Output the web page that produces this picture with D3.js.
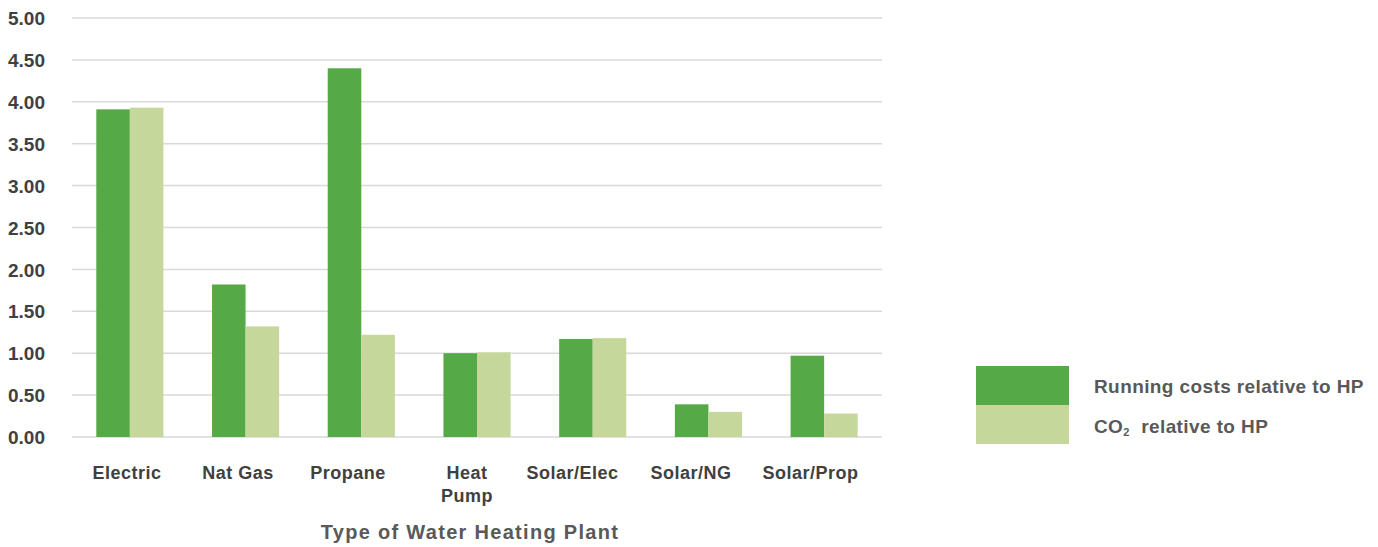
<!DOCTYPE html>
<html><head><meta charset="utf-8">
<script src="https://cdn.jsdelivr.net/npm/d3@7"></script>
<style>body{margin:0;background:#fff}svg{display:block}text{font-family:"Liberation Sans",Arial,sans-serif;font-weight:bold}</style>
</head><body>
<svg id="c" width="1378" height="547"></svg>
<script>
const categories = ["Electric","Nat Gas","Propane","Heat Pump","Solar/Elec","Solar/NG","Solar/Prop"];
const runningCosts = [3.91,1.82,4.40,1.00,1.17,0.39,0.97];
const co2 = [3.93,1.32,1.22,1.01,1.18,0.30,0.28];
const yTicks = [0,0.5,1,1.5,2,2.5,3,3.5,4,4.5,5];
const seriesNames = ["Running costs relative to HP","CO2 relative to HP"];
const colors = ["#55aa47","#c5d79a"];

(function(){
const svg = d3.select("#c");
const pL = 72, pR = 882, pT = 18, pB = 437;
const x = d3.scaleBand().domain(categories).range([pL,pR]).paddingInner(0.42).paddingOuter(0.21);
// label anchor positions (layout of the original category labels)
const xLab = d3.scaleOrdinal().domain(categories).range([127,238,348,467,572.5,691,810.5]);
const y = d3.scaleLinear().domain([0,5]).range([pB,pT]);
const xs = d3.scaleBand().domain([0,1]).range([0,x.bandwidth()]);

svg.append("g").selectAll("line").data(yTicks).join("line")
  .attr("x1",pL).attr("x2",pR)
  .attr("y1",d=>y(d)).attr("y2",d=>y(d))
  .attr("stroke","#d9d9d9").attr("stroke-width",1.5);

const yAxis = d3.axisLeft(y).tickValues(yTicks).tickFormat(d3.format(".2f")).tickSize(0).tickPadding(0);
const ya = svg.append("g").attr("transform","translate(45,0)").call(yAxis);
ya.select(".domain").remove();
ya.selectAll("text").attr("font-size",19).attr("fill","#404040").attr("dy","0.35em")
  .style("font-family","'Liberation Sans',Arial,sans-serif").style("font-weight","bold");

const series = [runningCosts, co2];
series.forEach((vals,si)=>{
  svg.append("g").selectAll("rect").data(categories).join("rect")
    .attr("x",(c)=>x(c)+xs(si))
    .attr("width",xs.bandwidth())
    .attr("y",(c,i)=>y(vals[i]))
    .attr("height",(c,i)=>y(0)-y(vals[i]))
    .attr("fill",colors[si]);
});

const xl = svg.append("g");
categories.forEach(c=>{
  const cx = xLab(c);
  const parts = c==="Heat Pump" ? ["Heat","Pump"] : [c];
  parts.forEach((p,i)=>{
    xl.append("text").attr("x",cx).attr("y",479+i*23).attr("text-anchor","middle")
      .attr("font-size",18).attr("letter-spacing",0.5).attr("fill","#404040").text(p);
  });
});

svg.append("text").attr("x",470).attr("y",539).attr("text-anchor","middle")
  .attr("font-size",20).attr("letter-spacing",1.3).attr("fill","#595959").text("Type of Water Heating Plant");

const lg = svg.append("g");
lg.append("rect").attr("x",976).attr("y",366).attr("width",93).attr("height",39).attr("fill",colors[0]);
lg.append("rect").attr("x",976).attr("y",405).attr("width",93).attr("height",39).attr("fill",colors[1]);
lg.append("text").attr("x",1094).attr("y",393).attr("font-size",19).attr("letter-spacing",0.4).attr("fill","#595959").text(seriesNames[0]);
const t2 = lg.append("text").attr("x",1094).attr("y",433).attr("font-size",19).attr("letter-spacing",0.4).attr("fill","#595959");
t2.append("tspan").text("CO");
t2.append("tspan").attr("font-size",11).attr("dy",3).text("2");
t2.append("tspan").attr("dy",-3).text("\u00a0 relative to HP");
})();
</script>
</body></html>
